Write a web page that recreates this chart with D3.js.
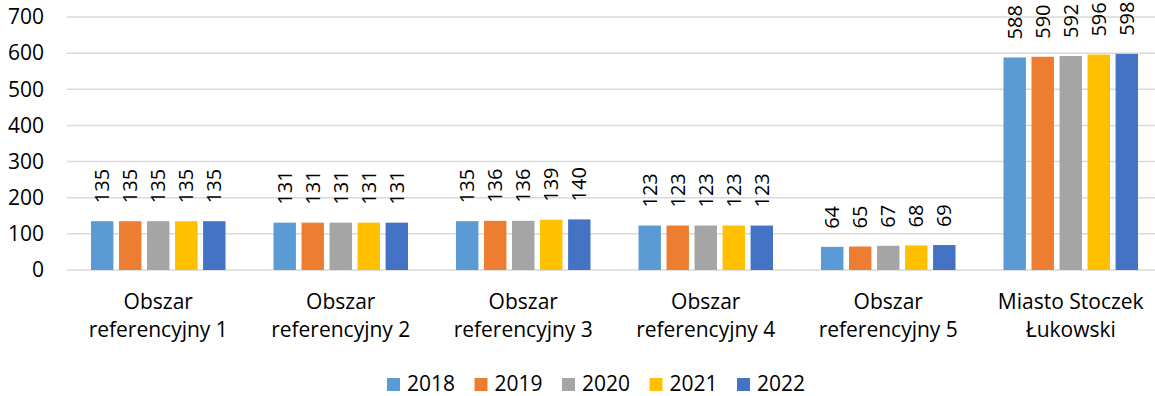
<!DOCTYPE html>
<html>
<head>
<meta charset="utf-8">
<script src="https://cdn.jsdelivr.net/npm/d3@7"></script>
<style>
  html, body { margin: 0; padding: 0; background: #fff; }
  svg { display: block; font-family: "Open Sans", "Liberation Sans", sans-serif; }
</style>
</head>
<body>
<svg id="chart" width="1155" height="396"></svg>
<script>
const categories = [
  ["Obszar", "referencyjny 1"],
  ["Obszar", "referencyjny 2"],
  ["Obszar", "referencyjny 3"],
  ["Obszar", "referencyjny 4"],
  ["Obszar", "referencyjny 5"],
  ["Miasto Stoczek", "Łukowski"]
];
const years = ["2018", "2019", "2020", "2021", "2022"];
const values2018 = [135, 131, 135, 123, 64, 588];
const values2019 = [135, 131, 136, 123, 65, 590];
const values2020 = [135, 131, 136, 123, 67, 592];
const values2021 = [135, 131, 139, 123, 68, 596];
const values2022 = [135, 131, 140, 123, 69, 598];
const yTicks = [0, 100, 200, 300, 400, 500, 600, 700];
const colors = ["#5B9BD5", "#ED7D31", "#A5A5A5", "#FFC000", "#4472C4"];

const series = [values2018, values2019, values2020, values2021, values2022];
const FS = 21;

const svg = d3.select("#chart");

const catIdx = d3.range(categories.length);
const x0 = d3.scaleBand().domain(catIdx).range([67, 1162]).padding(0);
const x1 = d3.scaleBand().domain(d3.range(years.length))
  .range([24, x0.bandwidth() - 24]).paddingInner(0.2).paddingOuter(0);
const y = d3.scaleLinear().domain([0, 700]).range([270, 17]);

// horizontal gridlines
svg.append("g")
  .selectAll("line")
  .data(yTicks)
  .join("line")
  .attr("x1", 67).attr("x2", 1162)
  .attr("y1", d => y(d)).attr("y2", d => y(d))
  .attr("stroke", "#d9d9d9")
  .attr("stroke-width", 1.5);

// y axis labels
const yAxis = d3.axisLeft(y).tickValues(yTicks).tickSize(0).tickPadding(0);
const yg = svg.append("g").attr("transform", "translate(44,0)").call(yAxis);
yg.select(".domain").remove();
yg.selectAll("text")
  .attr("font-size", FS)
  .attr("font-family", "'Open Sans', 'Liberation Sans', sans-serif")
  .attr("fill", "#000");

// bars
const groups = svg.append("g")
  .selectAll("g")
  .data(catIdx)
  .join("g")
  .attr("transform", i => `translate(${x0(i)},0)`);

groups.selectAll("rect")
  .data(i => series.map((s, k) => ({k, v: s[i]})))
  .join("rect")
  .attr("x", d => x1(d.k))
  .attr("width", x1.bandwidth())
  .attr("y", d => y(d.v))
  .attr("height", d => y(0) - y(d.v))
  .attr("fill", d => colors[d.k]);

// value labels, rotated
groups.selectAll("text.val")
  .data(i => series.map((s, k) => ({k, v: s[i]})))
  .join("text")
  .attr("class", "val")
  .attr("transform", d => `translate(${x1(d.k) + x1.bandwidth() / 2},${y(d.v) - 18}) rotate(-90)`)
  .attr("dy", "0.36em")
  .attr("text-anchor", "start")
  .attr("font-size", 20)
  .attr("fill", "#000")
  .text(d => d.v);

// category labels
const xg = svg.append("g");
catIdx.forEach(i => {
  const t = xg.append("text")
    .attr("x", x0(i) + x0.bandwidth() / 2)
    .attr("text-anchor", "middle")
    .attr("font-size", FS)
    .attr("fill", "#000");
  categories[i].forEach((line, j) => {
    t.append("tspan")
      .attr("x", x0(i) + x0.bandwidth() / 2)
      .attr("y", 309 + j * 27.5)
      .text(line);
  });
});

// legend
const legend = svg.append("g")
  .selectAll("g")
  .data(years)
  .join("g")
  .attr("transform", (d, k) => `translate(${387 + k * 87.5},0)`);
legend.append("rect")
  .attr("x", 0).attr("y", 378)
  .attr("width", 13).attr("height", 13)
  .attr("fill", (d, k) => colors[k]);
legend.append("text")
  .attr("x", 20).attr("y", 391)
  .attr("font-size", FS)
  .attr("fill", "#000")
  .text(d => d);
</script>
</body>
</html>
